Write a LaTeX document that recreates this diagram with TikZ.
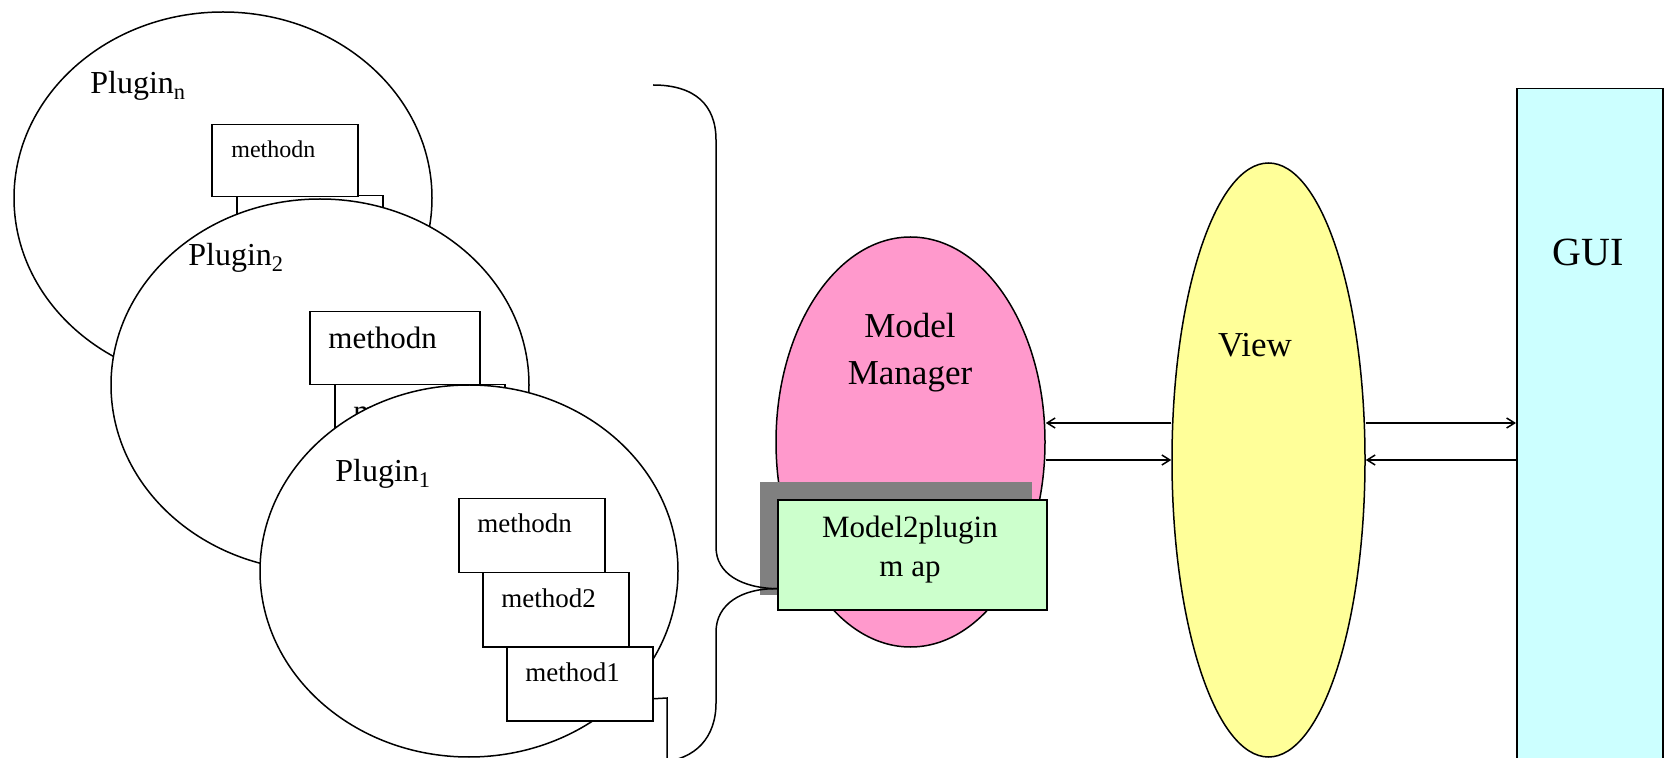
\documentclass[tikz,border=0pt]{standalone}
\usepackage{fontspec}
\setmainfont{Liberation Serif}
\usetikzlibrary{shapes.geometric,arrows.meta}
\definecolor{mmpink}{HTML}{FF99CC}
\definecolor{mapgreen}{HTML}{CCFFCC}
\definecolor{viewyellow}{HTML}{FFFF99}
\definecolor{guicyan}{HTML}{CCFFFF}
\definecolor{shadowgray}{HTML}{808080}

\begin{document}
\begin{tikzpicture}[x=0.5pt,y=-0.5pt,
  outline/.style={draw=black,line width=0.75pt},
  plugin/.style={outline,ellipse,fill=white,inner sep=0pt,
    minimum width=209pt,minimum height=186pt},
  methbox/.style={outline,rectangle,fill=white,inner sep=0pt,anchor=north west},
  smallbox/.style={methbox,minimum width=73pt,minimum height=36pt},
  widebox/.style={methbox,minimum width=85pt,minimum height=36.5pt},
  methtext/.style={anchor=base west,inner sep=0pt},
  title/.style={anchor=base,inner sep=0pt,font=\fontsize{17.5pt}{20pt}\selectfont},
  plabel/.style={anchor=base west,inner sep=0pt,font=\fontsize{16pt}{19pt}\selectfont},
  arr/.style={line width=0.75pt,-{Straight Barb[length=4pt,width=5pt]}},
  link/.style={line width=0.75pt}]

\useasboundingbox (0,0) rectangle (1670,758);
\clip (0,0) rectangle (1670,758);

% ---- Plugin n (rearmost) ----
\node[plugin] (pn) at (223,198) {};
\node[smallbox] (pn1) at (261,266) {};
\node[methtext,font=\fontsize{12pt}{14pt}\selectfont] at ([shift={(20,34)}]pn1.north west) {method1};
\node[smallbox] (pn2) at (236,195) {};
\node[methtext,font=\fontsize{12pt}{14pt}\selectfont] at ([shift={(20,34)}]pn2.north west) {method2};
\node[smallbox] (pnn) at (211,124) {};
\node[methtext,font=\fontsize{12pt}{14pt}\selectfont] (pnnt) at ([shift={(20,34)}]pnn.north west) {methodn};
\node[plabel] (pnl) at (90,94) {Plugin\textsubscript{n}};

% ---- Plugin 2 ----
\node[plugin] (p2) at (320,385) {};
\node[widebox] (p21) at (359,457) {};
\node[methtext,font=\fontsize{15.5pt}{18pt}\selectfont] at ([shift={(19,38)}]p21.north west) {method1};
\node[widebox] (p22) at (334,384) {};
\node[methtext,font=\fontsize{15.5pt}{18pt}\selectfont] at ([shift={(19,38)}]p22.north west) {method2};
\node[widebox] (p2n) at (309,311) {};
\node[methtext,font=\fontsize{15.5pt}{18pt}\selectfont] (p2nt) at ([shift={(19,38)}]p2n.north west) {methodn};
\node[plabel] (p2l) at (188,266) {Plugin\textsubscript{2}};

% ---- Plugin 1 (front) ----
\node[plugin] (p1) at (469,571) {};
\node[smallbox,minimum height=37pt] (p11) at (506,646) {};
\node[methtext,font=\fontsize{13.5pt}{16pt}\selectfont] (p11t) at ([shift={(19,35)}]p11.north west) {method1};
\node[smallbox,minimum height=37pt] (p12) at (482,572) {};
\node[methtext,font=\fontsize{13.5pt}{16pt}\selectfont] (p12t) at ([shift={(19,35)}]p12.north west) {method2};
\node[smallbox,minimum height=37pt] (p1n) at (458,498) {};
\node[methtext,font=\fontsize{13.5pt}{16pt}\selectfont] (p1nt) at ([shift={(19,35)}]p1n.north west) {methodn};
\node[plabel] (p1l) at (335,482) {Plugin\textsubscript{1}};

% ---- Model manager with its plugin map ----
\node[outline,ellipse,fill=mmpink,inner sep=0pt,minimum width=134.5pt,minimum height=205pt] (mm) at (910.5,442) {};
\node[title] (mmt1) at (910,338) {Model};
\node[title] (mmt2) at (910,385) {Manager};
\fill[shadowgray] (760,482) rectangle (1032,595);
\node[outline,rectangle,fill=mapgreen,inner sep=0pt,minimum width=134.5pt,minimum height=55pt] (map) at (912.5,555) {};

% ---- brace gathering the plugins into the map ----
\coordinate (tip) at ([yshift=11pt]map.south west);
\coordinate (braceTop) at (653,85);
\coordinate (braceBot) at (660,762);
\coordinate (knee) at (667,698);
\draw[link] (braceTop) .. controls (695,85) and (716,105) .. (716,140)
  -- (716,547) .. controls (716,574) and (742,588) .. (tip);
\draw[link] (tip) .. controls (742,588) and (716,604) .. (716,632)
  -- (716,703) .. controls (716,737) and (696,760) .. (braceBot);
\draw[link] ([yshift=-7.5pt]p11.east) -- (knee) -- (knee |- braceBot);

\node[anchor=base,inner sep=0pt,font=\fontsize{15.5pt}{18pt}\selectfont] (mapt1) at (910,538) {Model2plugin};
\node[anchor=base,inner sep=0pt,font=\fontsize{15.5pt}{18pt}\selectfont] (mapt2) at (910,577) {m ap};

% ---- View ----
\node[outline,ellipse,fill=viewyellow,inner sep=0pt,minimum width=96.5pt,minimum height=297pt] (view) at (1268.5,460) {};
\node[title] (viewt) at (1255,357) {View};

% ---- GUI ----
\node[outline,rectangle,fill=guicyan,inner sep=0pt,anchor=north west,minimum width=73pt,minimum height=360pt] (gui) at (1516,88) {};
\node[title,font=\fontsize{20pt}{24pt}\selectfont] (guit) at (1588,266) {GUI};

% ---- message arrows ----
\draw[arr] (view.west |- 0,423) -- (mm.east |- 0,423);
\draw[arr] (mm.east |- 0,460) -- (view.west |- 0,460);
\draw[arr] (view.east |- 0,423) -- (gui.west |- 0,423);
\draw[arr] (gui.west |- 0,460) -- (view.east |- 0,460);

\end{tikzpicture}
\end{document}
